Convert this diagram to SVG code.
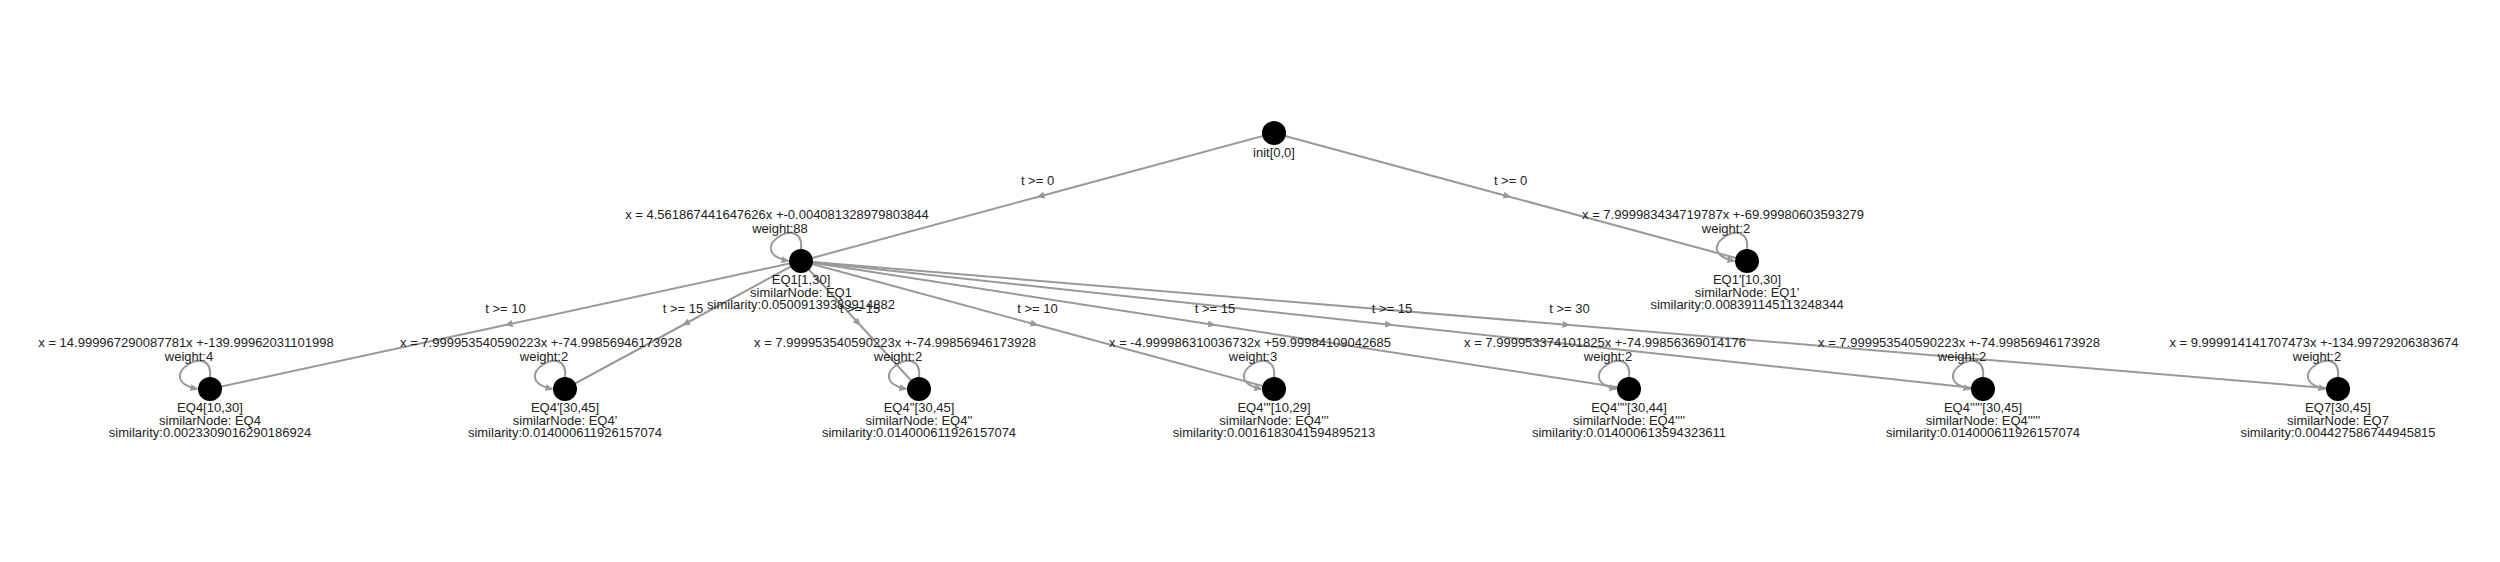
<svg xmlns="http://www.w3.org/2000/svg" width="2500" height="562" viewBox="0 0 2500 562">
<style>
.edge{fill:none;stroke:#999;stroke-width:2}
.loop{fill:none;stroke:#999;stroke-width:2}
text{font-family:"Liberation Sans",Arial,sans-serif;font-size:13px;fill:#222;text-anchor:middle}
.node{fill:#000}
</style>
<defs>
<marker id="arrow" viewBox="0 -4 8 8" refX="7" refY="0" markerWidth="8" markerHeight="8" markerUnits="userSpaceOnUse" orient="auto">
<path d="M0,-3.5L8,0L0,3.5z" fill="#999"/>
</marker>
</defs>
<rect width="2500" height="562" fill="#fff"/>
<g id="connectors">
<path class="edge" marker-mid="url(#arrow)" d="M1274,133 L1037.5,197 L801,261"/>
<path class="edge" marker-mid="url(#arrow)" d="M1274,133 L1510.5,197 L1747,261"/>
<path class="edge" marker-mid="url(#arrow)" d="M801,261 L505.5,325 L210,389"/>
<path class="edge" marker-mid="url(#arrow)" d="M801,261 L683,325 L565,389"/>
<path class="edge" marker-mid="url(#arrow)" d="M801,261 L860,325 L919,389"/>
<path class="edge" marker-mid="url(#arrow)" d="M801,261 L1037.5,325 L1274,389"/>
<path class="edge" marker-mid="url(#arrow)" d="M801,261 L1215,325 L1629,389"/>
<path class="edge" marker-mid="url(#arrow)" d="M801,261 L1392,325 L1983,389"/>
<path class="edge" marker-mid="url(#arrow)" d="M801,261 L1569.5,325 L2338,389"/>
<text x="1037.5" y="184.5">t &gt;= 0</text>
<text x="1510.5" y="184.5">t &gt;= 0</text>
<text x="505.5" y="312.5">t &gt;= 10</text>
<text x="683" y="312.5">t &gt;= 15</text>
<text x="860" y="312.5">t &gt;= 15</text>
<text x="1037.5" y="312.5">t &gt;= 10</text>
<text x="1215" y="312.5">t &gt;= 15</text>
<text x="1392" y="312.5">t &gt;= 15</text>
<text x="1569.5" y="312.5">t &gt;= 30</text>
<path class="loop" marker-end="url(#arrow)" d="M801,249 C805,211 741,251 788.5,261"/>
<path class="loop" marker-end="url(#arrow)" d="M1747,249 C1751,211 1687,251 1734.5,261"/>
<path class="loop" marker-end="url(#arrow)" d="M210,377 C214,339 150,379 197.5,389"/>
<path class="loop" marker-end="url(#arrow)" d="M565,377 C569,339 505,379 552.5,389"/>
<path class="loop" marker-end="url(#arrow)" d="M919,377 C923,339 859,379 906.5,389"/>
<path class="loop" marker-end="url(#arrow)" d="M1274,377 C1278,339 1214,379 1261.5,389"/>
<path class="loop" marker-end="url(#arrow)" d="M1629,377 C1633,339 1569,379 1616.5,389"/>
<path class="loop" marker-end="url(#arrow)" d="M1983,377 C1987,339 1923,379 1970.5,389"/>
<path class="loop" marker-end="url(#arrow)" d="M2338,377 C2342,339 2278,379 2325.5,389"/>
</g>
<g id="node-init">
<circle class="node" cx="1274" cy="133" r="12"/>
<text x="1274" y="157">init[0,0]</text>
</g>
<g id="node-EQ1">
<circle class="node" cx="801" cy="261" r="12"/>
<text x="777" y="219">x = 4.561867441647626x +-0.004081328979803844</text>
<text x="780" y="233">weight:88</text>
<text x="801" y="284">EQ1[1,30]</text>
<text x="801" y="296.5">similarNode: EQ1</text>
<text x="801" y="309">similarity:0.05009139389914882</text>
</g>
<g id="node-EQ1p">
<circle class="node" cx="1747" cy="261" r="12"/>
<text x="1723" y="219">x = 7.999983434719787x +-69.99980603593279</text>
<text x="1726" y="233">weight:2</text>
<text x="1747" y="284">EQ1'[10,30]</text>
<text x="1747" y="296.5">similarNode: EQ1'</text>
<text x="1747" y="309">similarity:0.008391145113248344</text>
</g>
<g id="node-EQ4">
<circle class="node" cx="210" cy="389" r="12"/>
<text x="186" y="347">x = 14.999967290087781x +-139.99962031101998</text>
<text x="189" y="361">weight:4</text>
<text x="210" y="412">EQ4[10,30]</text>
<text x="210" y="424.5">similarNode: EQ4</text>
<text x="210" y="437">similarity:0.0023309016290186924</text>
</g>
<g id="node-EQ4p">
<circle class="node" cx="565" cy="389" r="12"/>
<text x="541" y="347">x = 7.999953540590223x +-74.99856946173928</text>
<text x="544" y="361">weight:2</text>
<text x="565" y="412">EQ4'[30,45]</text>
<text x="565" y="424.5">similarNode: EQ4'</text>
<text x="565" y="437">similarity:0.014000611926157074</text>
</g>
<g id="node-EQ4pp">
<circle class="node" cx="919" cy="389" r="12"/>
<text x="895" y="347">x = 7.999953540590223x +-74.99856946173928</text>
<text x="898" y="361">weight:2</text>
<text x="919" y="412">EQ4''[30,45]</text>
<text x="919" y="424.5">similarNode: EQ4''</text>
<text x="919" y="437">similarity:0.014000611926157074</text>
</g>
<g id="node-EQ4ppp">
<circle class="node" cx="1274" cy="389" r="12"/>
<text x="1250" y="347">x = -4.999986310036732x +59.99984109042685</text>
<text x="1253" y="361">weight:3</text>
<text x="1274" y="412">EQ4'''[10,29]</text>
<text x="1274" y="424.5">similarNode: EQ4'''</text>
<text x="1274" y="437">similarity:0.0016183041594895213</text>
</g>
<g id="node-EQ4pppp">
<circle class="node" cx="1629" cy="389" r="12"/>
<text x="1605" y="347">x = 7.999953374101825x +-74.99856369014176</text>
<text x="1608" y="361">weight:2</text>
<text x="1629" y="412">EQ4''''[30,44]</text>
<text x="1629" y="424.5">similarNode: EQ4''''</text>
<text x="1629" y="437">similarity:0.014000613594323611</text>
</g>
<g id="node-EQ4ppppp">
<circle class="node" cx="1983" cy="389" r="12"/>
<text x="1959" y="347">x = 7.999953540590223x +-74.99856946173928</text>
<text x="1962" y="361">weight:2</text>
<text x="1983" y="412">EQ4'''''[30,45]</text>
<text x="1983" y="424.5">similarNode: EQ4'''''</text>
<text x="1983" y="437">similarity:0.014000611926157074</text>
</g>
<g id="node-EQ7">
<circle class="node" cx="2338" cy="389" r="12"/>
<text x="2314" y="347">x = 9.999914141707473x +-134.99729206383674</text>
<text x="2317" y="361">weight:2</text>
<text x="2338" y="412">EQ7[30,45]</text>
<text x="2338" y="424.5">similarNode: EQ7</text>
<text x="2338" y="437">similarity:0.004427586744945815</text>
</g>
</svg>
